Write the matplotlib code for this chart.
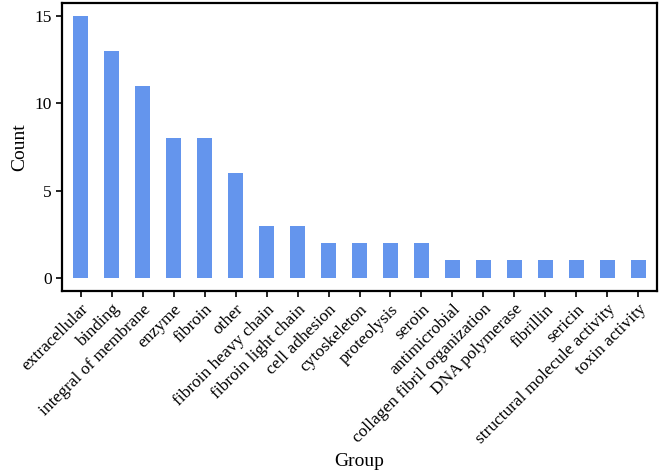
import matplotlib
matplotlib.use("Agg")
import matplotlib.pyplot as plt

plt.rcParams['font.family'] = ['Liberation Serif', 'DejaVu Serif']

groups = ["extracellular", "binding", "integral of membrane", "enzyme", "fibroin",
          "other", "fibroin heavy chain", "fibroin light chain", "cell adhesion",
          "cytoskeleton", "proteolysis", "seroin", "antimicrobial",
          "collagen fibril organization", "DNA polymerase", "fibrillin", "sericin",
          "structural molecule activity", "toxin activity"]
counts = [15, 13, 11, 8, 8, 6, 3, 3, 2, 2, 2, 2, 1, 1, 1, 1, 1, 1, 1]
y_ticks = [0, 5, 10, 15]

W, H = 667, 476
fig = plt.figure(figsize=(W / 100, H / 100), dpi=100)
ax = fig.add_axes([62 / W, 1 - 291 / H, (657 - 62) / W, (291 - 3) / H])

x = range(len(groups))
ax.bar(x, counts, width=0.5, color="#6495ED")

ax.set_xlim(-0.6, len(groups) - 0.4)
ax.set_ylim(-0.75, 15.75)
ax.set_yticks(y_ticks)
ax.set_xticks(list(x))
ax.set_xticklabels(groups, rotation=45, ha="right", rotation_mode="anchor")

for s in ax.spines.values():
    s.set_linewidth(1.6)
    s.set_color("black")
ax.tick_params(axis="both", direction="out", length=4, width=1.2,
               labelsize=12.5, colors="black")
ax.set_xlabel("Group", fontsize=14)
ax.set_ylabel("Count", fontsize=14)

fig.savefig("out.png", dpi=100)
